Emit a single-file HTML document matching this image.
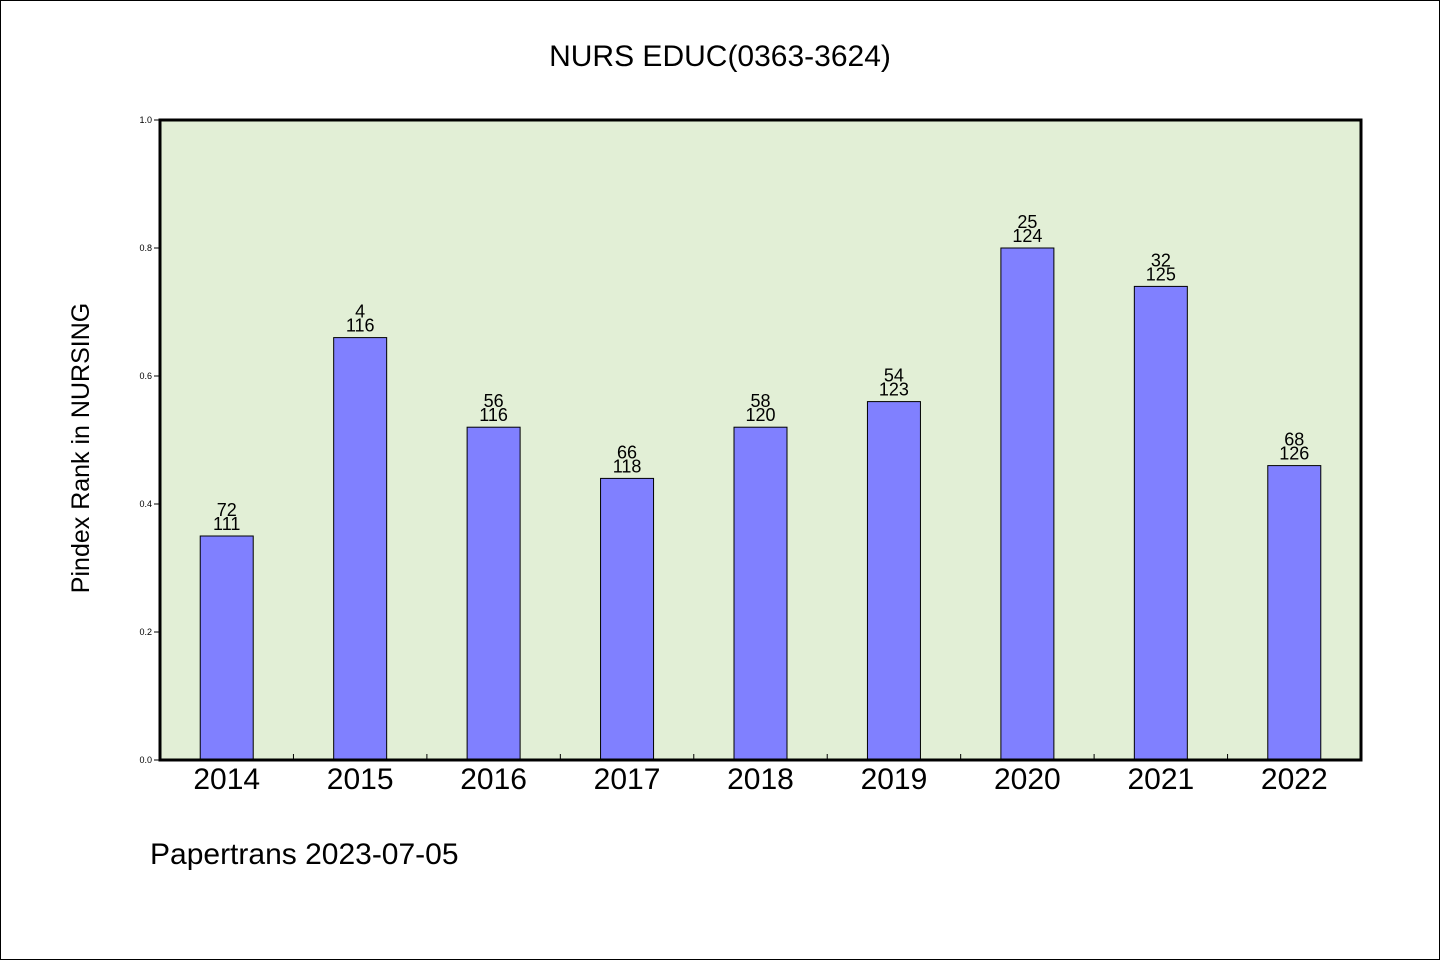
<!DOCTYPE html>
<html><head><meta charset="utf-8"><style>
html,body{margin:0;padding:0;background:#fff}
svg{display:block}
text{font-family:"WenQuanYi Zen Hei","Liberation Sans",sans-serif}
</style></head><body>
<svg id="chart" width="1440" height="960" viewBox="0 0 1440 960">
<rect x="0.5" y="0.5" width="1439" height="959" fill="#fff" stroke="#000"/>
<text x="720" y="66" font-size="30" text-anchor="middle">NURS EDUC(0363-3624)</text>
<rect x="160" y="120" width="1201" height="640" fill="#e2efd6"/>
<g id="bars"></g>
<g id="axes"></g>
<text transform="translate(89,448) rotate(-90)" font-size="25" text-anchor="middle">Pindex Rank in NURSING</text>
<text x="150" y="864" font-size="30">Papertrans 2023-07-05</text>
</svg>
<script>
const categories=["2014","2015","2016","2017","2018","2019","2020","2021","2022"];
const values=[0.35,0.66,0.52,0.44,0.52,0.56,0.80,0.74,0.46];
const ranks=[72,4,56,66,58,54,25,32,68];
const totals=[111,116,116,118,120,123,124,125,126];
const yTicks=["0.0","0.2","0.4","0.6","0.8","1.0"];
const NS="http://www.w3.org/2000/svg";
const X0=160,X1=1361,Y0=760,Y1=120;
const slot=(X1-X0)/categories.length;
const xc=i=>X0+slot*(i+0.5);
const y=v=>Y0-(v/1.0)*(Y0-Y1);
function mk(tag,attrs,parent){const e=document.createElementNS(NS,tag);for(const k in attrs)e.setAttribute(k,attrs[k]);parent.appendChild(e);return e;}
const bars=document.getElementById('bars'),axes=document.getElementById('axes');
categories.forEach((c,i)=>{
  const bw=53;
  const r=mk('rect',{x:xc(i)-bw/2,y:y(values[i]),width:bw,height:Y0-y(values[i]),fill:'#8080ff',stroke:'#000','stroke-width':1},bars);
  
  
  const t1=mk('text',{x:xc(i),y:y(values[i])-20,'font-size':18,'text-anchor':'middle'},bars);
  t1.textContent=ranks[i];
  
  
  const t2=mk('text',{x:xc(i),y:y(values[i])-6,'font-size':18,'text-anchor':'middle'},bars);
  t2.textContent=totals[i];
  
  
  const xl=mk('text',{x:xc(i),y:789,'font-size':30,'text-anchor':'middle'},axes);
  xl.textContent=c;
  
  
  if(i>0){const tk=mk('line',{x1:X0+slot*i,x2:X0+slot*i,y1:Y0,y2:Y0-6,stroke:'#000','stroke-width':1},axes);
  
  }
});
yTicks.forEach((t,i)=>{
  const v=parseFloat(t),yy=y(v);
  const tk=mk('line',{x1:X0-6,x2:X0,y1:yy,y2:yy,stroke:'#000','stroke-width':1},axes);
  
  
  const tl=mk('text',{x:X0-8,y:yy+3,'font-size':9,'text-anchor':'end'},axes);
  tl.textContent=t;
  
  
});
const fr=mk('rect',{x:X0,y:Y1,width:X1-X0,height:Y0-Y1,fill:'none',stroke:'#000','stroke-width':3},axes);


</script>
</body></html>
